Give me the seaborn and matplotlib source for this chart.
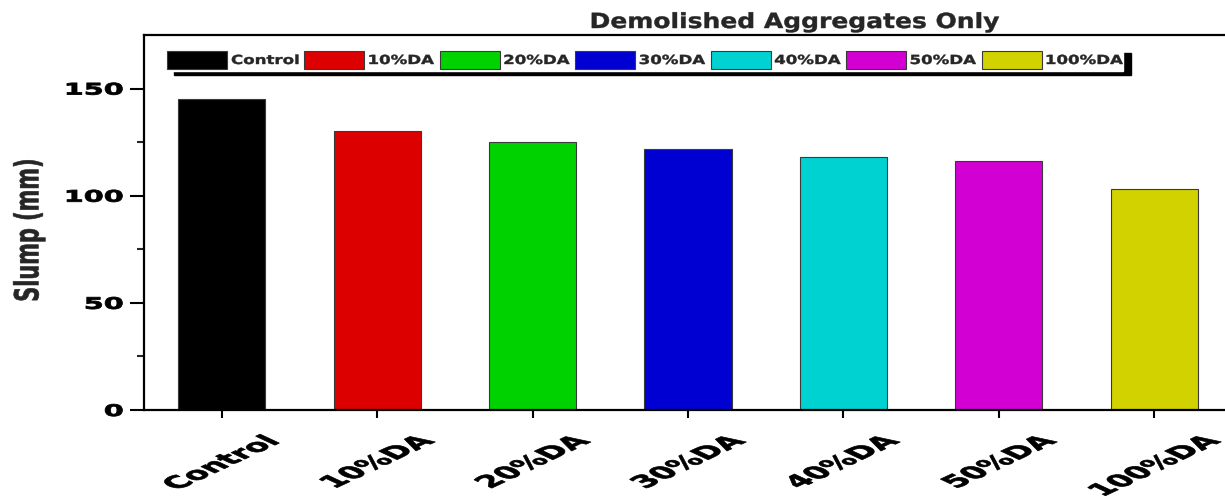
import matplotlib
matplotlib.use("Agg")
import matplotlib.pyplot as plt
import pandas as pd
import seaborn as sns
from matplotlib.patheffects import AbstractPathEffect
from matplotlib.transforms import Affine2D
from matplotlib.ticker import FixedLocator

# Slump test results for mixes with demolished aggregates
mixes = ["Control", "10%DA", "20%DA", "30%DA", "40%DA", "50%DA", "100%DA"]
slump_mm = [145, 130, 125, 122, 118, 116, 103]
bar_colors = ["#000000", "#dc0000", "#00d200", "#0000d2", "#00d2d2", "#d200d2", "#d2d200"]
y_major = [0, 50, 100, 150]
y_minor = [25, 75, 125]


class Widen(AbstractPathEffect):
    """Draw text horizontally widened by a factor, about a chosen anchor,
    with an optional outline of the same colour to thicken the strokes."""

    def __init__(self, sx, anchor="center", stroke=0.0):
        super().__init__()
        self.sx = sx
        self.anchor = anchor
        self.stroke = stroke

    def draw_path(self, renderer, gc, tpath, affine, rgbFace=None):
        ext = affine.transform_path(tpath).get_extents()
        x0 = {"left": ext.x0, "right": ext.x1,
              "center": 0.5 * (ext.x0 + ext.x1)}[self.anchor]
        aff = affine + Affine2D().translate(-x0, 0).scale(self.sx, 1).translate(x0, 0)
        if self.stroke > 0 and rgbFace is not None:
            gc0 = renderer.new_gc()
            gc0.copy_properties(gc)
            gc0.set_linewidth(self.stroke)
            gc0.set_foreground(rgbFace)
            renderer.draw_path(gc0, tpath, aff, rgbFace)
            gc0.restore()
        else:
            renderer.draw_path(gc, tpath, aff, rgbFace)


sns.set_style("ticks")
plt.rcParams["font.family"] = ["DejaVu Sans"]

df = pd.DataFrame({"Mix": mixes, "Slump": slump_mm})

W, H = 1225, 503
fig = plt.figure(figsize=(W / 100, H / 100), dpi=100)
ax = fig.add_axes([144 / W, 1 - 410 / H, (1232 - 144) / W, (410 - 35) / H])

sns.barplot(data=df, x="Mix", y="Slump", hue="Mix", palette=bar_colors,
            width=0.56, saturation=1, edgecolor="#3a3a3a", linewidth=0.8,
            legend=True, ax=ax)

ax.set_xlim(-0.5, 6.5)
ax.set_ylim(0, 175)

for side in ["left", "bottom", "top"]:
    ax.spines[side].set_linewidth(1.6)
    ax.spines[side].set_color("black")
ax.spines["right"].set_visible(False)

ax.yaxis.set_major_locator(FixedLocator(y_major))
ax.yaxis.set_minor_locator(FixedLocator(y_minor))
ax.tick_params(axis="y", which="major", length=10, width=1.5, pad=5,
               direction="out", labelsize=11.5, colors="black")
ax.tick_params(axis="y", which="minor", length=5, width=1.5, direction="out")
ax.tick_params(axis="x", which="major", length=6, width=1.5, pad=10,
               direction="out", colors="black")

ax.set_xticks(range(len(mixes)))
ax.set_xticklabels(mixes, rotation=45, ha="center", fontsize=12.0, fontweight="bold")
for t in ax.get_xticklabels():
    t.set_path_effects([Widen(2.15, "center", stroke=0.5)])
for t in ax.get_yticklabels():
    t.set_fontweight("bold")
    t.set_path_effects([Widen(1.8, "right", stroke=0.6)])

ax.set_xlabel("")
ax.set_ylabel("Slump (mm)", fontsize=15, fontweight="bold", va="center")
ax.yaxis.set_label_coords((29 - 144) / (1232 - 144), 0.48)
ax.yaxis.label.set_path_effects([Widen(1.6, "center", stroke=0.4)])

handles, labels = ax.get_legend_handles_labels()
# trailing spaces leave room inside the frame for the widened last label
labels = list(labels[:-1]) + [labels[-1] + "    "]
leg = ax.legend(handles, labels, ncol=7, loc="upper left",
                bbox_to_anchor=(0.0202, 0.962),
                prop={"weight": "bold", "size": 9},
                handlelength=4.8, handleheight=1.9, handletextpad=0.3,
                columnspacing=1.75, borderpad=0.12, borderaxespad=0,
                frameon=True, fancybox=False, edgecolor="white",
                facecolor="white", framealpha=1,
                shadow={"color": "black", "alpha": 1, "ox": 6, "oy": -3})
for t in leg.get_texts():
    t.set_path_effects([Widen(1.33, "left", stroke=0.3)])

fig.text(795 / W, 1 - 22 / H, "Demolished Aggregates Only", ha="center",
         va="center", fontsize=15, fontweight="bold",
         path_effects=[Widen(1.2, "center", stroke=0.3)])

fig.savefig("out.png", dpi=100)
